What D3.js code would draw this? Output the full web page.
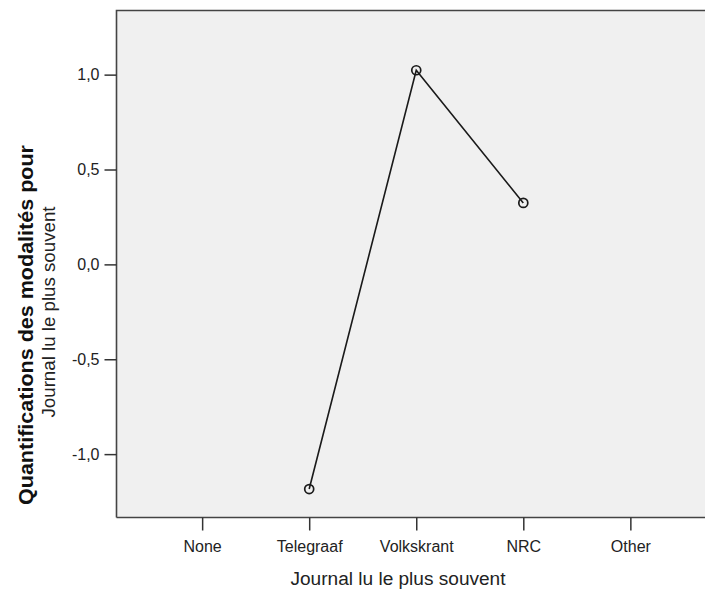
<!DOCTYPE html>
<html><head><meta charset="utf-8">
<script src="https://cdn.jsdelivr.net/npm/d3@7"></script>
<style>body{margin:0;background:#fff}svg{display:block}text{font-family:"Liberation Sans",Arial,sans-serif}</style>
</head><body>
<svg id="c" width="705" height="593"></svg>
<script>
const categories = ["None","Telegraaf","Volkskrant","NRC","Other"];
const seriesCats = ["Telegraaf","Volkskrant","NRC"];
const seriesValues = [-1.184, 1.023, 0.324];
const yTicks = [-1.0,-0.5,0.0,0.5,1.0];
const yTitle = "Quantifications des modalités pour";
const ySubTitle = "Journal lu le plus souvent";
const xTitle = "Journal lu le plus souvent";

const svg = d3.select("#c");
const L=116.5, T=10.5, R=716, B=517.5;
const x = d3.scalePoint().domain(categories).range([L,R]).padding(0.8);
const y = d3.scaleLinear().domain([-1.334,1.338]).range([B,T]);

svg.append("rect").attr("x",L).attr("y",T).attr("width",R-L).attr("height",B-T).attr("fill","#f0f0f0");
svg.append("path").attr("d",`M${L},${B}V${T}H${R}`).attr("fill","none").attr("stroke","#444").attr("stroke-width",1.6);
svg.append("path").attr("d",`M${L},${B}H${R}`).attr("fill","none").attr("stroke","#444").attr("stroke-width",1.6);

const fmt = v => d3.format(".1f")(v).replace(".",",").replace("−","-");
const yAxis = svg.append("g").attr("transform",`translate(${L},0)`)
  .call(d3.axisLeft(y).tickValues(yTicks).tickSize(12).tickFormat(fmt));
yAxis.select(".domain").remove();
yAxis.selectAll("line").attr("stroke","#333").attr("stroke-width",1.5);
yAxis.selectAll("text").attr("font-size",16).attr("fill","#222").attr("x",-17).attr("font-family","Liberation Sans, Arial, sans-serif");

const xAxis = svg.append("g").attr("transform",`translate(0,${B})`)
  .call(d3.axisBottom(x).tickSize(13));
xAxis.select(".domain").remove();
xAxis.selectAll("line").attr("stroke","#333").attr("stroke-width",1.5);
xAxis.selectAll("text").attr("font-size",16).attr("fill","#222").attr("y",23).attr("font-family","Liberation Sans, Arial, sans-serif");

const pts = seriesCats.map((c,i)=>({c,v:seriesValues[i]}));
svg.append("path").datum(pts)
  .attr("d",d3.line().x(d=>x(d.c)).y(d=>y(d.v)))
  .attr("fill","none").attr("stroke","#1a1a1a").attr("stroke-width",1.6);
svg.selectAll("circle.pt").data(pts).join("circle").attr("class","pt")
  .attr("cx",d=>x(d.c)).attr("cy",d=>y(d.v)).attr("r",4.5)
  .attr("fill","none").attr("stroke","#1a1a1a").attr("stroke-width",1.7);

svg.append("text").attr("transform","translate(33,325) rotate(-90)")
  .attr("text-anchor","middle").attr("font-size",21).attr("font-weight","bold").attr("fill","#111")
  .attr("textLength",360).attr("lengthAdjust","spacingAndGlyphs").text(yTitle);
svg.append("text").attr("transform","translate(55,312) rotate(-90)")
  .attr("text-anchor","middle").attr("font-size",18).attr("fill","#222")
  .attr("textLength",211).attr("lengthAdjust","spacingAndGlyphs").text(ySubTitle);
svg.append("text").attr("x",398).attr("y",585)
  .attr("text-anchor","middle").attr("font-size",18).attr("fill","#222")
  .attr("textLength",215).attr("lengthAdjust","spacingAndGlyphs").text(xTitle);
</script>
</body></html>
